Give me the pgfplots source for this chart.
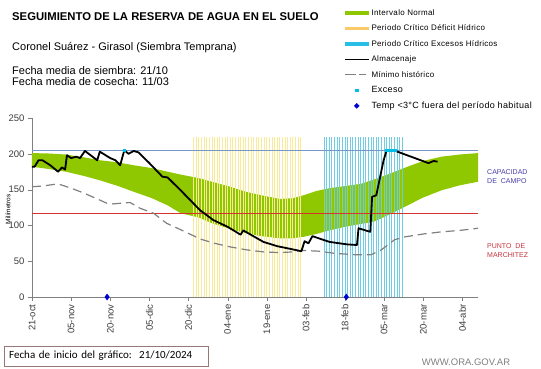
\documentclass[border=0pt]{standalone}
\usepackage{fontspec}
\setmainfont{Liberation Sans}
\newfontfamily\carlito{Carlito}
\newfontfamily\legA[LetterSpace=4]{Liberation Sans}
\newfontfamily\legB[LetterSpace=4]{Liberation Sans}
\usepackage{pgfplots}
\pgfplotsset{compat=1.18}
\definecolor{mygreen}{RGB}{143,199,0}
\definecolor{yellowc}{RGB}{248,234,150}
\definecolor{cyanc}{RGB}{110,205,228}
\definecolor{cyanleg}{RGB}{40,190,230}
\definecolor{capline}{RGB}{120,150,200}
\definecolor{pmred}{RGB}{215,50,50}
\definecolor{captext}{RGB}{70,60,170}
\definecolor{pmtext}{RGB}{200,50,60}
\definecolor{diam}{RGB}{0,0,210}
\definecolor{exc}{RGB}{0,190,230}
\definecolor{boxc}{RGB}{150,120,120}
\definecolor{tickc}{RGB}{60,60,60}
\begin{document}
\begin{tikzpicture}[x=1pt,y=1pt]
\useasboundingbox (-32,-71) rectangle (509,297);
\begin{axis}[
  at={(0,0)}, anchor=south west,
  width=446pt, height=179pt, scale only axis,
  xmin=0, xmax=171, ymin=0, ymax=250,
  axis x line=bottom, axis y line=left,
  axis line style={draw=gray, -},
  xtick={0,15,...,165},
  xticklabels={21-oct,05-nov,20-nov,05-dic,20-dic,04-ene,19-ene,03-feb,18-feb,05-mar,20-mar,04-abr},
  x tick label style={rotate=90, anchor=east, font=\fontsize{9.5}{10}\selectfont, text=tickc},
  ytick={0,50,...,250},
  y tick label style={font=\fontsize{9.5}{10}\selectfont, text=tickc},
  tick align=outside, major tick length=4pt, tick style={draw=gray},
  /pgf/number format/assume math mode=true,
  clip=false,
  ylabel={Milímetros},
  ylabel style={at={(axis description cs:-0.054,0.49)}, anchor=center, font=\fontsize{6.5}{7}\selectfont},
  legend style={at={(0.697,1.615)}, anchor=north west, draw=none, fill=none,
    font=\legA\fontsize{8}{9}\selectfont, row sep=6pt, inner sep=0pt,
    nodes={inner sep=1pt, text height=6pt, text depth=1.5pt}},
  legend cell align=left,
]
\addlegendimage{legend image code/.code={\draw[mygreen, line width=3.5pt] (0pt,0pt) -- (24pt,0pt);}}
\addlegendentry{Intervalo Normal}
\addlegendimage{legend image code/.code={\draw[yellowc!70!orange, line width=3.5pt] (0pt,0pt) -- (24pt,0pt);}}
\addlegendentry{Periodo Crítico Déficit Hídrico}
\addlegendimage{legend image code/.code={\draw[cyanleg, line width=3.5pt] (0pt,0pt) -- (24pt,0pt);}}
\addlegendentry{Periodo Crítico Excesos Hídricos}
\addlegendimage{legend image code/.code={\draw[black, line width=1.6pt] (0pt,0pt) -- (24pt,0pt);}}
\addlegendentry{Almacenaje}
\addlegendimage{legend image code/.code={\draw[gray, line width=1.2pt, dash pattern=on 11pt off 3pt on 7pt off 3pt] (0pt,0pt) -- (24pt,0pt);}}
\addlegendentry{Mínimo histórico}
\addlegendimage{legend image code/.code={\fill[exc] (10.8pt,-1.2pt) rectangle (13.2pt,1.2pt);}}
\addlegendentry{\legB\fontsize{9}{10}\selectfont Exceso}
\addlegendimage{legend image code/.code={\fill[diam] (12pt,-2.5pt) -- (14.5pt,0pt) -- (12pt,2.5pt) -- (9.5pt,0pt) -- cycle;}}
\addlegendentry{\legB\fontsize{9}{10}\selectfont Temp <3°C fuera del período habitual}

% green band
\addplot[fill=mygreen, draw=none, forget plot] coordinates {
(0,201) (6,200.5) (13,199) (20,195) (26,191) (33,188) (39,184) (46,180) (52,175) (57,171) (64,166) (69,161) (76,154) (82,147) (88,142) (95,137) (100,138) (104,142) (109,148) (114,152) (120,155) (126,158) (131,164) (137,172) (144,182) (150,190) (157,196) (164,199) (171,201)
(171,161) (164,156) (157,149) (150,139) (144,128) (137,115) (131,105) (126,102) (120,98) (114,93) (109,88) (104,84) (100,82) (95,82) (88,85) (82,89) (76,95) (69,103) (64,111) (57,117) (52,128) (46,138) (39,147) (33,155) (26,163) (20,169) (13,175) (6,179) (0,182)
} -- cycle;

% yellow critical period
\addplot[ycomb, draw=yellowc, line width=0.9pt, forget plot] coordinates {
(62,224) (63,224) (64,224) (65,224) (66,224) (67,224) (68,224) (69,224) (70,224) (71,224)
(72,224) (73,224) (74,224) (75,224) (76,224) (77,224) (78,224) (79,224) (80,224) (81,224)
(82,224) (83,224) (84,224) (85,224) (86,224) (87,224) (88,224) (89,224) (90,224) (91,224)
(92,224) (93,224) (94,224) (95,224) (96,224) (97,224) (98,224) (99,224) (100,224) (101,224)
(102,224) (103,224)
};
% cyan critical period
\addplot[ycomb, draw=cyanc, line width=0.9pt, forget plot] coordinates {
(112,224) (113,224) (114,224) (115,224) (116,224) (117,224) (118,224) (119,224) (120,224) (121,224)
(122,224) (123,224) (124,224) (125,224) (126,224) (127,224) (128,224) (129,224) (130,224) (131,224)
(132,224) (133,224) (134,224) (135,224) (136,224) (137,224) (138,224) (139,224) (140,224) (141,224)
(142,224)
};

% capacidad de campo / punto de marchitez
\addplot[draw=capline, line width=0.8pt, forget plot] coordinates {(0,205) (171,205)};
\addplot[fill=pmred, draw=none, forget plot] coordinates {(0,116.3) (171,116.3) (171,117.7) (0,117.7)} -- cycle;

% minimo historico
\addplot[draw=gray, line width=1.2pt, dash pattern=on 9pt off 5pt, forget plot] coordinates {
(0,154) (4,155) (10,158) (15,152) (20,145) (25,137) (28.7,131) (31,130) (37.6,132) (41.4,124) (46.6,117) (51.6,103) (57,94) (64.5,81) (70,75) (76,70) (82,66) (88.7,63) (95,62) (100,63) (104,65) (110,64) (116,61) (124,59) (130,59) (134,66) (139,80) (143,84) (150,88) (157,91) (164,93) (171,96)
};

% almacenaje
\addplot[draw=black, line width=1.8pt, line join=round, forget plot] coordinates {
(0,182) (1,182) (2.5,191) (4,191) (7,184) (10,175) (11.5,181) (12.7,178) (13.4,198) (15,194) (17,196) (18.4,194) (20.3,204) (25,191) (26,203) (30,194) (32,191) (33.8,184) (35.4,205) (37,200) (39,204) (40.8,202) (45,187) (50,168) (52,167) (57,149) (64.5,121) (69.5,107.5) (75,98) (80,87) (81,93) (88.7,77) (94,71) (98,68) (103.3,64) (104.5,78) (106,75) (107.5,85) (114,77) (120.8,73.5) (124.6,72.6) (125.2,96) (129.7,91) (130.4,140) (132,142) (134.8,191) (136,205) (138.6,205) (152,187) (154,190) (155.5,189)
};

% exceso
\addplot[only marks, mark=square*, mark size=1.2pt, color=exc, forget plot] coordinates {
(35.4,205) (136,205) (137,205) (138,205) (139,205)
};
% temp < 3
\addplot[only marks, mark=diamond*, mark size=3pt, color=diam, forget plot] coordinates {
(28.8,0) (120.5,0)
};
\end{axis}

\node[anchor=base west, inner sep=0, font=\bfseries\fontsize{11.3}{13}\selectfont] at (-20,277) {SEGUIMIENTO DE LA RESERVA DE AGUA EN EL SUELO};
\node[anchor=base west, inner sep=0, font=\fontsize{11}{13}\selectfont] at (-20,247) {Coronel Suárez - Girasol (Siembra Temprana)};
\node[anchor=base west, inner sep=0, font=\fontsize{11}{13}\selectfont] at (-20,223) {Fecha media de siembra: 21/10};
\node[anchor=base west, inner sep=0, font=\fontsize{11}{13}\selectfont] at (-20,212) {Fecha media de cosecha: 11/03};

\node[anchor=west, align=left, inner sep=0, font=\fontsize{7}{9}\selectfont, text=captext] at (455,120) {CAPACIDAD\\DE\ \ CAMPO};
\node[anchor=west, align=left, inner sep=0, font=\fontsize{7}{9}\selectfont, text=pmtext] at (455,46) {PUNTO\ \ DE\\MARCHITEZ};

\node[draw=boxc, anchor=south west, text width=194pt, inner sep=5pt, minimum height=19pt, align=left, font=\carlito\fontsize{11}{13}\selectfont] at (-28,-69) {Fecha de inicio del gráfico:\ \ 21/10/2024};
\node[anchor=base, inner sep=0, text=gray, font=\fontsize{9.5}{11}\selectfont] at (434,-68.5) {WWW.ORA.GOV.AR};
\end{tikzpicture}
\end{document}
